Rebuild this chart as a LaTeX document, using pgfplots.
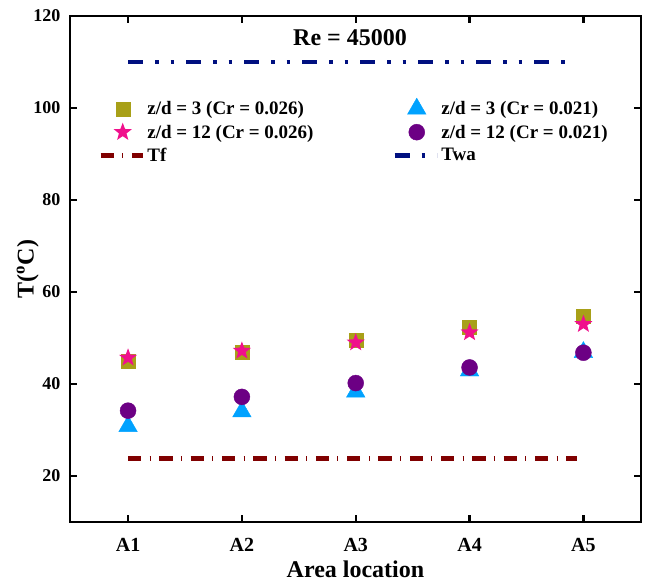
\documentclass[border=0pt]{standalone}
\usepackage{pgfplots}
\pgfplotsset{compat=1.18}
\usepackage{fontspec}
\setmainfont{Liberation Serif}

\definecolor{olivesq}{RGB}{168,160,24}
\definecolor{pinkstar}{RGB}{240,16,140}
\definecolor{azuretri}{RGB}{0,162,255}
\definecolor{purplecirc}{RGB}{108,0,132}
\definecolor{wine}{RGB}{128,0,0}
\definecolor{navyline}{RGB}{0,16,128}

% filled five-pointed star
\pgfdeclareplotmark{filledstar}{%
  \pgfpathmoveto{\pgfpointpolar{90}{\pgfplotmarksize}}%
  \pgfpathlineto{\pgfpointpolar{126}{0.42\pgfplotmarksize}}%
  \pgfpathlineto{\pgfpointpolar{162}{\pgfplotmarksize}}%
  \pgfpathlineto{\pgfpointpolar{198}{0.42\pgfplotmarksize}}%
  \pgfpathlineto{\pgfpointpolar{234}{\pgfplotmarksize}}%
  \pgfpathlineto{\pgfpointpolar{270}{0.42\pgfplotmarksize}}%
  \pgfpathlineto{\pgfpointpolar{306}{\pgfplotmarksize}}%
  \pgfpathlineto{\pgfpointpolar{342}{0.42\pgfplotmarksize}}%
  \pgfpathlineto{\pgfpointpolar{18}{\pgfplotmarksize}}%
  \pgfpathlineto{\pgfpointpolar{54}{0.42\pgfplotmarksize}}%
  \pgfpathclose
  \pgfusepathqfill}

% longer legend samples for the two reference lines
\pgfplotsset{
  tflegend/.style={legend image code/.code={\draw[##1] (-13.5pt,0pt) -- (28.5pt,0pt);}},
  twalegend/.style={legend image code/.code={\draw[##1] (-13.5pt,0pt) -- (29pt,0pt);}},
}

\begin{document}
\begin{tikzpicture}
\useasboundingbox (-70pt,-60pt) rectangle (576pt,522pt);
\begin{axis}[
  at={(0pt,0pt)}, anchor=south west,
  scale only axis, width=571pt, height=506pt,
  xmin=0.49, xmax=5.506, ymin=10, ymax=120,
  xtick={1,2,3,4,5}, xticklabels={A1,A2,A3,A4,A5},
  ytick={20,40,60,80,100,120},
  tick align=inside, major tick length=7pt,
  tick style={line width=2.4pt, black},
  axis line style={line width=2.8pt},
  /pgf/number format/assume math mode=true,
  x tick label style={font=\fontsize{20}{20}\selectfont\bfseries, yshift=-13pt},
  y tick label style={font=\fontsize{18}{18}\selectfont\bfseries, xshift=-6pt},
  xlabel={Area location}, ylabel={T(\textsuperscript{o}C)},
  every axis x label/.style={at={(axis description cs:0.5,-0.093)}, anchor=center},
  every axis y label/.style={at={(axis description cs:-0.074,0.5)}, rotate=90, anchor=center},
  label style={font=\fontsize{24}{24}\selectfont\bfseries},
  legend columns=2,
  legend cell align=left,
  legend style={draw=none, fill=none, at={(axis description cs:0.0435,0.842)},
    anchor=north west, font=\fontsize{19}{19}\selectfont\bfseries,
    row sep=4.5pt,
    /tikz/every even column/.append style={column sep=77pt}},
]
\addplot[only marks, mark=square*, mark size=7pt, color=olivesq]
  coordinates {(1,44.9) (2,47.0) (3,49.5) (4,52.3) (5,54.8)};
\addlegendentry{z/d = 3 (Cr = 0.026)}
\addplot[only marks, mark=triangle*, mark size=10.7pt, color=azuretri]
  coordinates {(1,30.8) (2,34.0) (3,38.3) (4,42.9) (5,46.9)};
\addlegendentry{z/d = 3 (Cr = 0.021)}
\addplot[only marks, mark=filledstar, mark size=9.5pt, color=pinkstar]
  coordinates {(1,45.7) (2,47.2) (3,49.0) (4,51.2) (5,53.0)};
\addlegendentry{z/d = 12 (Cr = 0.026)}
\addplot[only marks, mark=*, mark size=8pt, color=purplecirc]
  coordinates {(1,34.2) (2,37.2) (3,40.2) (4,43.6) (5,46.8)};
\addlegendentry{z/d = 12 (Cr = 0.021)}
\addplot[wine, line width=5.3pt, dash pattern=on 13.3pt off 8.3pt on 1pt off 8.7pt, tflegend]
  coordinates {(1,23.8) (4.94,23.8)};
\addlegendentry{Tf}
\addplot[navyline, line width=4.3pt, dash pattern=on 15pt off 12pt on 3.5pt off 12pt on 3.5pt off 12pt, twalegend]
  coordinates {(1,110) (4.905,110)};
\addlegendentry{Twa}
\node[font=\fontsize{24}{24}\selectfont\bfseries, anchor=base] at (axis cs:2.95,113.6) {Re = 45000};
\end{axis}
\end{tikzpicture}
\end{document}
